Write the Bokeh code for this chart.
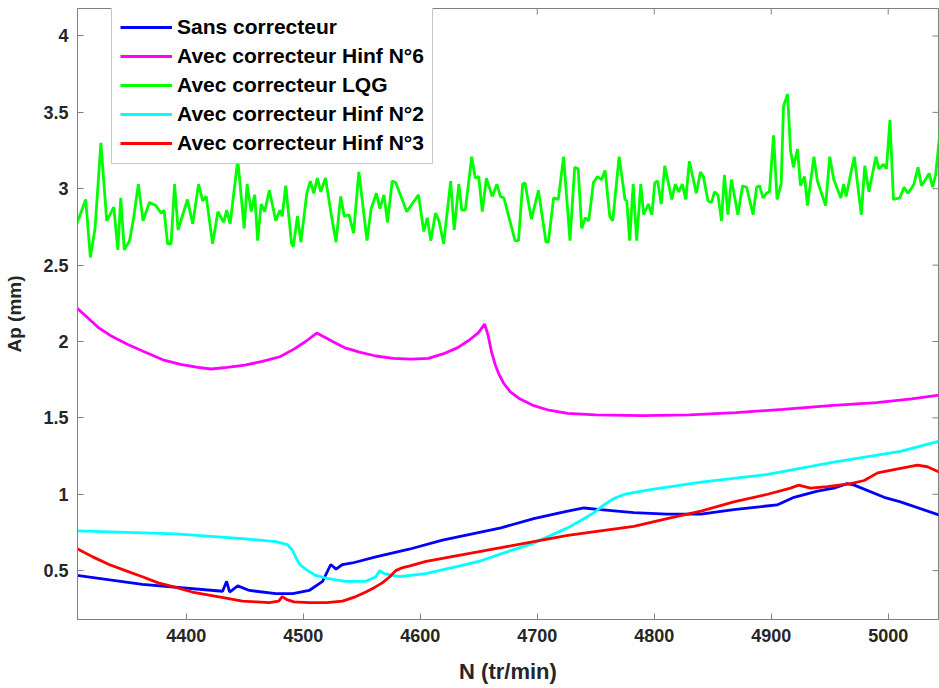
import math
from bokeh.plotting import figure
from bokeh.models import Range1d, FixedTicker, Legend, LegendItem
from bokeh.embed import file_html
from bokeh.resources import INLINE

# ---------------- data ----------------
x_ticks = [4400, 4500, 4600, 4700, 4800, 4900, 5000]
y_ticks = [0.5, 1, 1.5, 2, 2.5, 3, 3.5, 4]
y_tick_labels = ["0.5", "1", "1.5", "2", "2.5", "3", "3.5", "4"]

sans_x = [4305, 4362.5, 4431, 4434.5, 4437, 4444, 4454, 4476.5, 4491, 4505, 4516.5, 4523.5,
          4528, 4533.5, 4542, 4562, 4590.5, 4619, 4669, 4697, 4726, 4740, 4754, 4782.5,
          4811, 4840, 4868, 4905, 4919.5, 4939.5, 4953.5, 4965, 4971, 4996.5, 5010.5, 5045]
sans_y = [0.47, 0.41, 0.365, 0.43, 0.36, 0.40, 0.37, 0.35, 0.35, 0.37, 0.43, 0.54,
          0.51, 0.54, 0.55, 0.59, 0.64, 0.70, 0.78, 0.84, 0.89, 0.91, 0.90, 0.88,
          0.87, 0.87, 0.90, 0.93, 0.98, 1.02, 1.04, 1.07, 1.06, 0.98, 0.95, 0.86]

hinf6_x = [4305, 4315, 4325, 4335, 4350, 4365, 4380, 4395, 4410, 4421, 4435, 4450, 4465,
           4480, 4492, 4502, 4511.5, 4518, 4525, 4535, 4548, 4562, 4577, 4592, 4607, 4620,
           4632, 4642, 4650, 4655, 4658, 4661, 4664, 4667, 4671, 4677, 4685, 4697, 4710,
           4726, 4750, 4790, 4830, 4870, 4910, 4950, 4990, 5020, 5045]
hinf6_y = [2.23, 2.16, 2.09, 2.04, 1.98, 1.93, 1.88, 1.85, 1.83, 1.82, 1.83, 1.845, 1.87,
           1.90, 1.95, 2.00, 2.055, 2.03, 2.00, 1.96, 1.93, 1.905, 1.89, 1.885, 1.89, 1.92,
           1.96, 2.01, 2.06, 2.115, 2.04, 1.93, 1.85, 1.79, 1.73, 1.67, 1.625, 1.58, 1.55,
           1.53, 1.52, 1.515, 1.52, 1.535, 1.555, 1.58, 1.60, 1.625, 1.65]

lqg_x = [4305, 4314, 4318, 4322, 4327, 4332, 4338, 4341.5, 4344, 4347, 4351.5, 4355, 4359,
         4363, 4368.5, 4374, 4378.5, 4381, 4384, 4387, 4390, 4393, 4401, 4405.5, 4410.5,
         4414, 4417, 4422.5, 4427, 4432, 4434.5, 4437.5, 4444, 4449.5, 4452, 4455.5,
         4458.5, 4461, 4464, 4467, 4471, 4476.5, 4480, 4482, 4485, 4490, 4491.5, 4495,
         4498, 4503, 4506, 4509, 4512, 4515, 4519, 4523.5, 4528, 4532, 4535, 4539, 4543,
         4547.5, 4554.5, 4558, 4562.5, 4565.5, 4569, 4572, 4576, 4579, 4583, 4588.5, 4593,
         4598.5, 4603, 4606, 4609, 4613, 4616, 4620, 4626, 4629, 4633, 4635.5, 4638.5,
         4644, 4647, 4650, 4653, 4656.5, 4661.5, 4665.5, 4668.5, 4671.5, 4681, 4684,
         4687.5, 4689.5, 4695, 4701, 4707.5, 4709.5, 4714, 4718, 4722.5, 4728, 4732,
         4735, 4738, 4741, 4744, 4748, 4751.5, 4755, 4758, 4762, 4764.5, 4770, 4775,
         4776.5, 4779, 4782, 4785, 4788.5, 4791, 4795, 4798, 4800.5, 4803, 4806, 4809,
         4815, 4818, 4821, 4824, 4827, 4830, 4836, 4839.5, 4842, 4846, 4849, 4851.5,
         4854.5, 4857.5, 4860, 4863, 4866, 4871.5, 4875.5, 4879, 4884.5, 4887.5, 4890,
         4893, 4896, 4898.5, 4902, 4905, 4908.5, 4910.5, 4914, 4916.5, 4919, 4922.5,
         4925, 4928.5, 4931, 4936.5, 4939.5, 4946.5, 4950, 4953.5, 4959.5, 4962, 4964,
         4971, 4977, 4980, 4983.5, 4989.5, 4992, 4996, 4998.5, 5001.5, 5004.5, 5010,
         5013.5, 5017, 5022, 5025.5, 5028.5, 5035, 5038, 5040.5, 5045]
lqg_y = [2.74, 2.93, 2.55, 2.74, 3.30, 2.79, 2.88, 2.60, 2.94, 2.60, 2.66, 2.81, 3.03,
         2.79, 2.91, 2.89, 2.84, 2.86, 2.64, 2.64, 3.03, 2.73, 2.93, 2.77, 3.03,
         2.92, 2.95, 2.64, 2.85, 2.78, 2.86, 2.77, 3.19, 2.74, 3.03, 2.85,
         2.96, 2.66, 2.90, 2.85, 2.99, 2.79, 2.86, 2.82, 3.02, 2.64, 2.62, 2.82,
         2.65, 2.97, 3.05, 2.97, 3.07, 2.98, 3.07, 2.85, 2.65, 2.95, 2.82, 2.83, 2.71,
         3.11, 2.66, 2.87, 2.97, 2.87, 2.96, 2.78, 3.05, 3.04, 2.96, 2.85, 2.90,
         2.96, 2.72, 2.81, 2.66, 2.84, 2.79, 2.64, 3.05, 2.73, 3.03, 2.86, 2.86,
         3.21, 3.07, 3.08, 2.85, 3.07, 2.95, 3.03, 2.95, 2.94, 2.66, 2.66,
         3.03, 3.04, 2.80, 2.99, 2.65, 2.65, 2.94, 2.93, 3.21, 2.66, 3.14,
         3.13, 2.74, 2.81, 2.79, 3.04, 3.08, 3.06, 3.12, 2.82, 2.79, 3.21, 2.93,
         2.92, 2.66, 3.03, 2.66, 3.03, 2.83, 2.90, 2.83, 3.04, 3.05, 2.90, 3.15,
         2.93, 3.03, 2.98, 3.03, 2.93, 3.18, 2.97, 3.11, 3.08, 2.92, 2.91, 2.98,
         2.96, 2.79, 3.09, 2.83, 3.06, 2.83, 3.02, 3.01, 2.83, 3.01, 3.02,
         2.94, 2.97, 2.98, 3.35, 2.93, 3.03, 3.54, 3.62, 3.25, 3.14, 3.26,
         3.02, 3.08, 2.89, 3.21, 3.05, 2.89, 3.21, 3.06, 2.94, 3.03, 2.95,
         3.21, 2.83, 3.15, 2.98, 3.21, 3.13, 3.16, 3.13, 3.45, 2.93, 2.94,
         3.01, 2.97, 3.03, 3.14, 3.02, 3.10, 3.01, 3.09, 3.42]

hinf2_x = [4305, 4391, 4448, 4476.5, 4486.5, 4491, 4494, 4497, 4502, 4510, 4520, 4536, 4553.5,
           4562, 4565.5, 4569, 4582, 4604.5, 4633, 4650, 4669, 4697, 4726, 4740, 4748.5, 4757,
           4763, 4768, 4775, 4797, 4840, 4897, 4953.5, 5010.5, 5045]
hinf2_y = [0.76, 0.74, 0.71, 0.69, 0.67, 0.63, 0.58, 0.54, 0.51, 0.47, 0.45, 0.43, 0.43,
           0.46, 0.50, 0.48, 0.46, 0.48, 0.53, 0.56, 0.61, 0.68, 0.78, 0.84, 0.88, 0.93,
           0.96, 0.98, 1.00, 1.03, 1.08, 1.13, 1.21, 1.28, 1.35]

hinf3_x = [4305, 4320, 4334, 4348, 4362.5, 4376, 4391, 4405, 4419.5, 4434, 4448, 4460, 4471,
           4479, 4482, 4486, 4492, 4505, 4520, 4533.5, 4545, 4553.5, 4561, 4567.5, 4574, 4579,
           4585, 4590.5, 4605, 4619, 4669, 4697, 4726, 4754, 4782.5, 4811, 4840, 4868, 4897,
           4916.5, 4923.5, 4933.5, 4948, 4968, 4979.5, 4991, 5010.5, 5025, 5033.5, 5045]
hinf3_y = [0.65, 0.59, 0.54, 0.50, 0.46, 0.42, 0.39, 0.36, 0.34, 0.32, 0.30, 0.295, 0.29,
           0.30, 0.33, 0.31, 0.295, 0.29, 0.29, 0.30, 0.33, 0.36, 0.39, 0.42, 0.46, 0.50,
           0.52, 0.53, 0.56, 0.58, 0.65, 0.69, 0.73, 0.76, 0.79, 0.84, 0.89, 0.95, 1.00,
           1.04, 1.06, 1.04, 1.05, 1.07, 1.09, 1.14, 1.17, 1.19, 1.18, 1.14]

series = [
    ("Sans correcteur", sans_x, sans_y, "#0000ff"),
    ("Avec correcteur Hinf N°6", hinf6_x, hinf6_y, "#ff00ff"),
    ("Avec correcteur LQG", lqg_x, lqg_y, "#00ff00"),
    ("Avec correcteur Hinf N°2", hinf2_x, hinf2_y, "#00ffff"),
    ("Avec correcteur Hinf N°3", hinf3_x, hinf3_y, "#ff0000"),
]

# ---------------- figure ----------------
FONT = "Liberation Sans"
AX_COL = "#808080"
TXT_COL = "#262626"

x_rng = Range1d(4307, 5043)
y_rng = Range1d(0.18, 4.18)

p = figure(width=939, height=688, output_backend="svg", toolbar_location=None,
           x_range=x_rng, y_range=y_rng,
           min_border_left=77, min_border_right=1, min_border_top=8, min_border_bottom=69)
p.background_fill_color = "white"
p.border_fill_color = "white"
p.grid.visible = False
p.outline_line_color = AX_COL
p.outline_line_width = 1

items = []
for name, xs, ys, col in series:
    r = p.line(xs, ys, line_color=col, line_width=2.8)
    items.append(LegendItem(label=name, renderers=[r]))

# inward tick marks on the top and right edges of the box (clipped to the frame)
p.scatter(x_ticks, [y_rng.end] * len(x_ticks), marker="dash", angle=math.pi / 2,
          size=12, line_color=AX_COL, line_width=1)
p.scatter([x_rng.end] * len(y_ticks), y_ticks, marker="dash",
          size=12, line_color=AX_COL, line_width=1)

for ax in p.xaxis:
    ax.ticker = FixedTicker(ticks=x_ticks)
for ax in p.yaxis:
    ax.ticker = FixedTicker(ticks=y_ticks)
    ax.major_label_overrides = {t: l for t, l in zip(y_ticks, y_tick_labels)}

for ax in list(p.xaxis) + list(p.yaxis):
    ax.axis_line_color = AX_COL
    ax.major_tick_line_color = AX_COL
    ax.major_tick_in = 6
    ax.major_tick_out = 0
    ax.minor_tick_line_color = None
    ax.major_label_text_font = FONT
    ax.major_label_text_font_style = "bold"
    ax.major_label_text_font_size = "18px"
    ax.major_label_text_color = TXT_COL
    ax.axis_label_text_font = FONT
    ax.axis_label_text_font_style = "bold"
    ax.axis_label_text_color = TXT_COL
    ax.major_label_standoff = 9

p.xaxis.axis_label = "N (tr/min)"
p.yaxis.axis_label = "Ap (mm)"
p.xaxis.axis_label_text_font_size = "22px"
p.yaxis.axis_label_text_font_size = "19px"
p.xaxis.axis_label_standoff = 14
p.yaxis.axis_label_standoff = 15

legend = Legend(items=items, location=(34, 455))
legend.label_text_font = FONT
legend.label_text_font_style = "bold"
legend.label_text_font_size = "21px"
legend.label_text_color = "black"
legend.label_height = 20
legend.glyph_height = 20
legend.glyph_width = 52
legend.label_standoff = 5
legend.spacing = 5
legend.padding = 8
legend.margin = 0
legend.border_line_color = "#909090"
legend.border_line_width = 1
legend.background_fill_color = "white"
legend.background_fill_alpha = 1
p.add_layout(legend, "center")

open("out.html", "w").write(file_html(p, INLINE))
